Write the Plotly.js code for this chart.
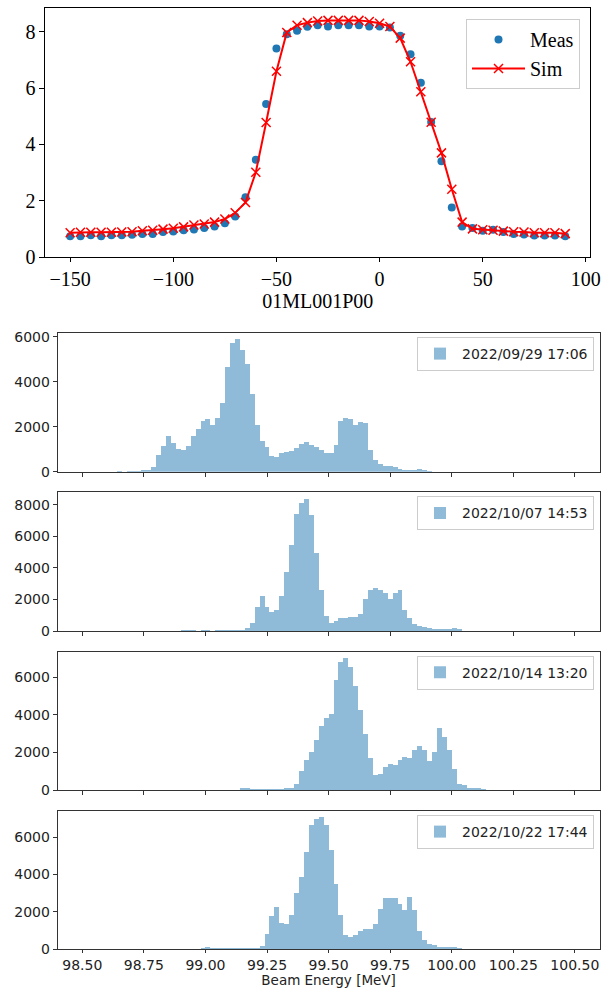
<!DOCTYPE html>
<html>
<head>
<meta charset="utf-8">
<script src="https://cdn.plot.ly/plotly-3.0.1.min.js"></script>
<style>html,body{margin:0;padding:0;background:#fff;}#chart{width:602px;height:988px;}</style>
</head>
<body>
<div id="chart"></div>
<script>
// ---------- top scan ----------
const scanX = [-150,-145,-140,-135,-130,-125,-120,-115,-110,-105,-100,-95,-90,-85,-80,-75,-70,-65,-60,-55,-50,-45,-40,-35,-30,-25,-20,-15,-10,-5,0,5,10,15,20,25,30,35,40,45,50,55,60,65,70,75,80,85,90];
const measY = [0.74,0.74,0.77,0.74,0.77,0.77,0.79,0.82,0.82,0.89,0.91,0.95,0.98,1.03,1.08,1.20,1.44,2.12,3.46,5.44,7.41,7.92,8.04,8.18,8.24,8.19,8.24,8.24,8.24,8.19,8.19,8.16,7.86,7.21,6.19,4.80,3.40,1.76,1.08,1.03,0.93,0.97,0.89,0.82,0.80,0.76,0.76,0.76,0.74];
const simY = [0.86,0.88,0.88,0.88,0.88,0.89,0.90,0.93,0.95,0.99,1.02,1.07,1.14,1.17,1.24,1.35,1.57,1.94,3.01,4.78,6.60,7.98,8.24,8.33,8.39,8.41,8.41,8.41,8.41,8.37,8.31,8.19,7.78,6.94,5.87,4.79,3.70,2.41,1.24,1.00,0.97,0.95,0.92,0.90,0.89,0.86,0.86,0.86,0.83];
const scanXLabel = '01ML001P00';
const scanNames = ['Meas','Sim'];

// ---------- histograms ----------
const binStart = 98.5;
const binWidth = 0.02;
const energyTicks = [98.5,98.75,99.0,99.25,99.5,99.75,100.0,100.25,100.5];
const histLabels = ['2022/09/29 17:06','2022/10/07 14:53','2022/10/14 13:20','2022/10/22 17:44'];
const counts0929 = [
0,0,0,0,0,0,0,50,0,50,
50,20,60,60,220,740,1150,1600,1290,1010,
970,1160,1580,1920,2260,2350,2080,2410,3040,4670,
5740,5920,5400,4800,3480,2070,1350,1100,710,670,
820,860,910,1060,1240,1320,1190,1100,980,820,
850,1190,2260,2380,2350,2080,2230,2160,950,520,
330,240,250,190,100,80,80,70,100,70,
30,0,0,0,0,0,0,0,0,0,
0,0,0,0,0,0,0,0,0,0,
0,0,0,0,0,0,0,0,0,0];
const counts1007 = [
0,0,0,0,0,0,0,0,0,0,
0,0,0,0,0,0,0,0,0,0,
60,80,40,30,60,50,30,40,40,50,
50,50,60,170,500,1500,2230,1540,1200,1350,
2230,3770,5470,7430,8100,8380,7350,4930,2630,950,
530,630,800,800,900,860,1100,2040,2630,2740,
2630,2380,2040,2380,2570,1350,820,420,320,270,
210,130,120,120,130,170,150,0,0,0,
0,0,0,0,0,0,0,0,0,0,
0,0,0,0,0,0,0,0,0,0];
const counts1014 = [
0,0,0,0,0,0,0,0,0,0,
0,0,0,0,0,0,0,0,0,0,
0,0,0,0,0,0,0,0,0,0,
0,0,120,90,50,50,50,50,50,40,
60,90,120,320,1020,1570,2010,2650,3420,3830,
4060,5860,6810,7020,6530,5520,4250,2960,1690,790,
830,1220,1360,1340,1620,1760,1710,2120,2330,2150,
1540,2030,3320,2820,2120,1090,300,260,110,120,
90,40,0,0,0,0,0,0,0,0,
0,0,0,0,0,0,0,0,0,0];
const counts1022 = [
0,0,0,0,0,0,0,0,0,0,
0,0,0,0,0,0,0,0,0,0,
0,0,0,0,50,120,50,50,50,50,
50,50,50,50,50,60,200,830,1790,2240,
1420,1330,1810,3000,3850,5180,6670,6960,7070,6640,
5290,3520,1830,760,670,750,990,1080,1080,1380,
2130,2730,2730,2730,2450,2090,2820,2080,980,500,
280,210,140,100,100,140,90,40,0,0,
0,0,0,0,0,0,0,0,0,0,
0,0,0,0,0,0,0,0,0,0];
const histCounts = [counts0929, counts1007, counts1014, counts1022];
const histYMax = [6176, 8800, 7350, 7400];

const binCenters = counts0929.map((_, i) => binStart + binWidth * (i + 0.5));

const serif = 'Liberation Serif, Times New Roman, serif';
const sans = 'DejaVu Sans, sans-serif';

const traces = [
  {type:'scatter', mode:'markers', x:scanX, y:measY, name:scanNames[0],
   marker:{color:'#1f77b4', size:8}, xaxis:'x', yaxis:'y', legend:'legend'},
  {type:'scatter', mode:'lines+markers', x:scanX, y:simY, name:scanNames[1],
   line:{color:'#ff0000', width:2},
   marker:{symbol:'x-thin', size:9, color:'#ff0000', line:{color:'#ff0000', width:1.5}},
   xaxis:'x', yaxis:'y', legend:'legend'}
];
histCounts.forEach((c, k) => {
  const n = k + 2;
  traces.push({type:'bar', x:binCenters, y:c, width:binWidth, name:histLabels[k],
    marker:{color:'#8fbbd9', line:{width:0}},
    xaxis:'x'+n, yaxis:'y'+n, legend:'legend'+n, showlegend:true});
});

const H = 988, W = 602;
const dy = (top, bot) => [1 - bot / H, 1 - top / H];
const histBoxes = [[333,471.7],[492.3,631],[651.7,790],[811,949.3]];

const layout = {
  width:W, height:H, margin:{l:0,r:0,t:0,b:0},
  paper_bgcolor:'#fff', plot_bgcolor:'#fff', bargap:0, showlegend:true,
  xaxis:{domain:[45.4/W, 590/W], range:[-162,102], anchor:'y',
    tickvals:[-150,-100,-50,0,50,100], ticks:'outside', ticklen:4, tickcolor:'#000',
    showline:true, mirror:true, linecolor:'#000', linewidth:1, showgrid:false, zeroline:false,
    tickfont:{family:serif, size:20, color:'#000'},
    title:{text:scanXLabel, font:{family:serif, size:20, color:'#000'}, standoff:3}},
  yaxis:{domain:dy(8,257), range:[0,8.85], anchor:'x',
    tickvals:[0,2,4,6,8], ticks:'outside', ticklen:5, tickcolor:'#000',
    showline:true, mirror:true, linecolor:'#000', linewidth:1, showgrid:false, zeroline:false,
    tickfont:{family:serif, size:20, color:'#000'}},
  legend:{x:580/W, xanchor:'right', y:1-19/H, yanchor:'top', itemwidth:53,
    font:{family:serif, size:20, color:'#000'}, bgcolor:'#fff', bordercolor:'#cccccc', borderwidth:1}
};
histBoxes.forEach((b, k) => {
  const n = k + 2;
  const last = k === 3;
  layout['xaxis'+n] = {domain:[57.7/W, 599.5/W], range:[98.4,100.6], anchor:'y'+n,
    tickvals:energyTicks, tickformat:'.2f', showticklabels:last,
    ticks:'outside', ticklen:last ? 3 : 4, tickcolor:'#333',
    showline:true, mirror:true, linecolor:'#333', linewidth:1, showgrid:false, zeroline:false,
    tickfont:{family:sans, size:14, color:'#222'}};
  if (last) layout['xaxis'+n].title = {text:'Beam Energy [MeV]', font:{family:sans, size:13.5, color:'#222'}, standoff:1};
  layout['yaxis'+n] = {domain:dy(b[0], b[1]), range:[0, histYMax[k]], anchor:'x'+n,
    dtick:2000, tick0:0, ticks:'outside', ticklen:4, tickcolor:'#333',
    showline:true, mirror:true, linecolor:'#333', linewidth:1, showgrid:false, zeroline:false,
    tickfont:{family:sans, size:14, color:'#222'}};
  layout['legend'+n] = {x:594/W, xanchor:'right', y:1-(b[0]+4)/H, yanchor:'top', itemwidth:34,
    font:{family:sans, size:14, color:'#222'}, bgcolor:'#fff', bordercolor:'#cccccc', borderwidth:1};
});

Plotly.newPlot('chart', traces, layout, {staticPlot:true, displayModeBar:false});
</script>
</body>
</html>
